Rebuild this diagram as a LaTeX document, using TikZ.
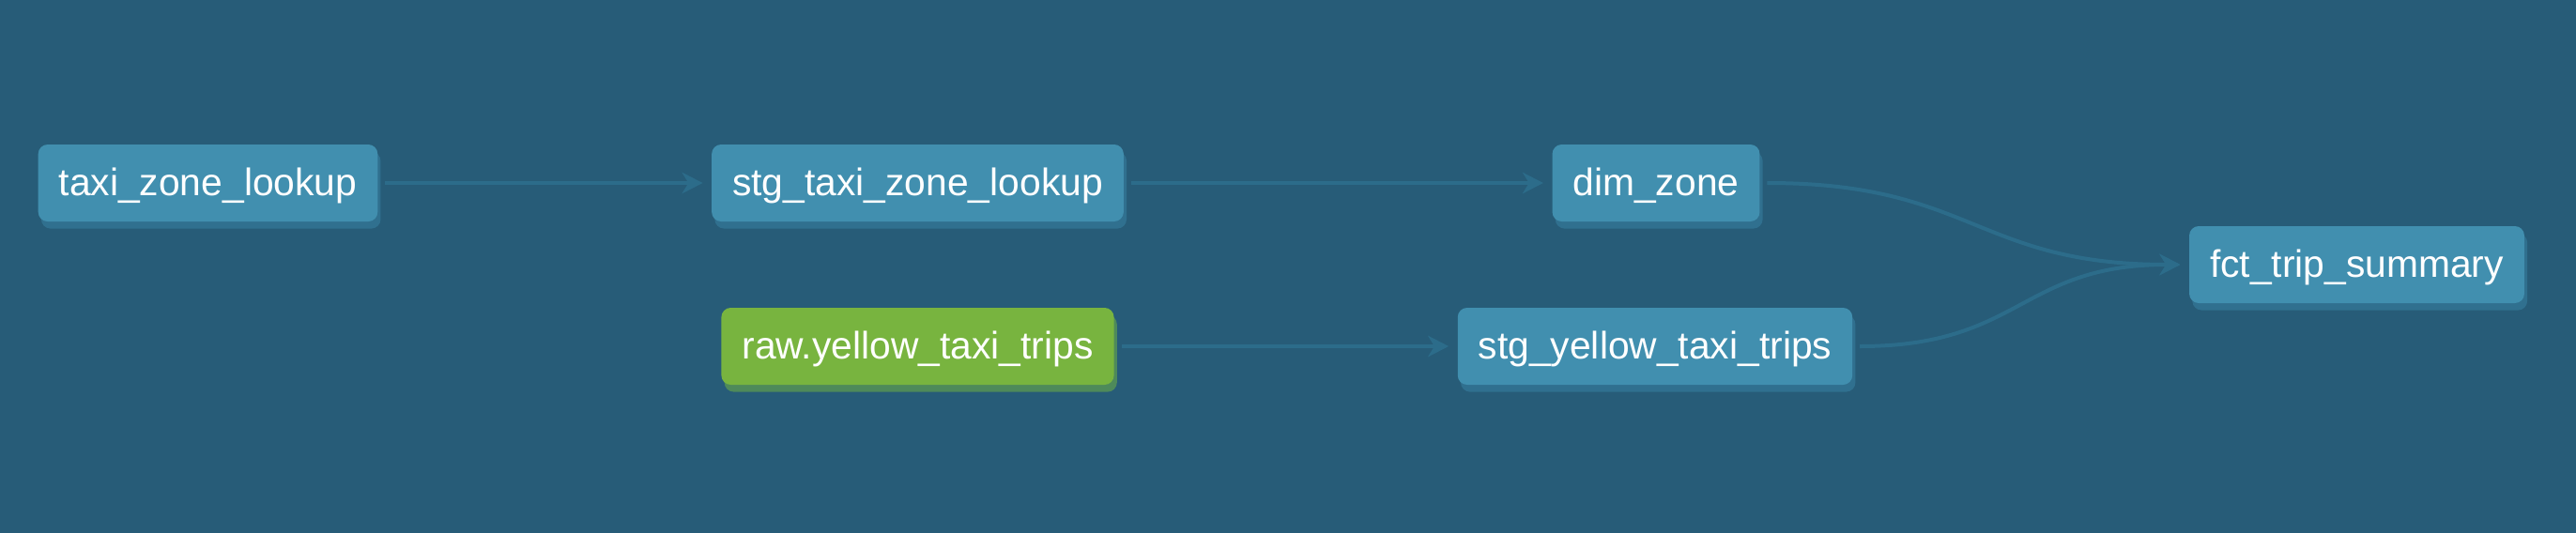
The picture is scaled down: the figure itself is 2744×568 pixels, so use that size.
\documentclass[tikz,border=0pt]{standalone}
\usepackage{fontspec}
\setmainfont{Liberation Sans}
\usepackage{tikz}
\usetikzlibrary{arrows.meta,shadows}

\definecolor{bgblue}{HTML}{275C78}
\definecolor{modelblue}{HTML}{418FAF}
\definecolor{sourcegreen}{HTML}{78B43F}
\definecolor{modelshade}{HTML}{30708F}
\definecolor{sourceshade}{HTML}{4E8A5A}
\definecolor{linkblue}{HTML}{2C6C8A}

\begin{document}
\begin{tikzpicture}[->,>={Stealth[length=5.5pt,width=5.6pt,inset=1.7pt]},
                    x=0.25pt,y=-0.25pt]
  \tikzstyle{box}=[rounded corners=2.5pt, text=white, inner xsep=5.5pt,
  minimum height=20.5pt, text height=8pt, text depth=1.5pt,
  font=\fontsize{10.2pt}{12pt}\selectfont]
  \tikzstyle{model}=[box, fill=modelblue, drop shadow={shadow xshift=0.8pt,
  shadow yshift=-1.9pt, fill=modelshade, opacity=1}]
  \tikzstyle{source}=[box, fill=sourcegreen, drop shadow={shadow xshift=0.8pt,
  shadow yshift=-1.9pt, fill=sourceshade, opacity=1}]
  \tikzstyle{link}=[draw=linkblue, line width=1pt,
  shorten >=2.2pt, shorten <=1.8pt]

  \useasboundingbox (0,0) rectangle (2744,568);
  \fill[bgblue] (0,0) rectangle (2744,568);

  \node[model ](taxizone) at (221.5,195) {taxi\_zone\_lookup};
  \node[model ](stgzone)  at (977.5,195) {stg\_taxi\_zone\_lookup};
  \node[model ](dimzone)  at (1764,195)  {dim\_zone};
  \node[source](rawtrips) at (977.5,369) {raw.yellow\_taxi\_trips};
  \node[model ](stgtrips) at (1763,369)  {stg\_yellow\_taxi\_trips};
  \node[model ](fcttrips) at (2510.5,282) {fct\_trip\_summary};

  \path (taxizone) edge[link]                 (stgzone)
        (stgzone)  edge[link]                 (dimzone)
        (rawtrips) edge[link]                 (stgtrips)
        (dimzone)  edge[link, out=0, in=180, looseness=1.25] (fcttrips)
        (stgtrips) edge[link, out=0, in=180, looseness=1.25] (fcttrips);

\end{tikzpicture}
\end{document}
